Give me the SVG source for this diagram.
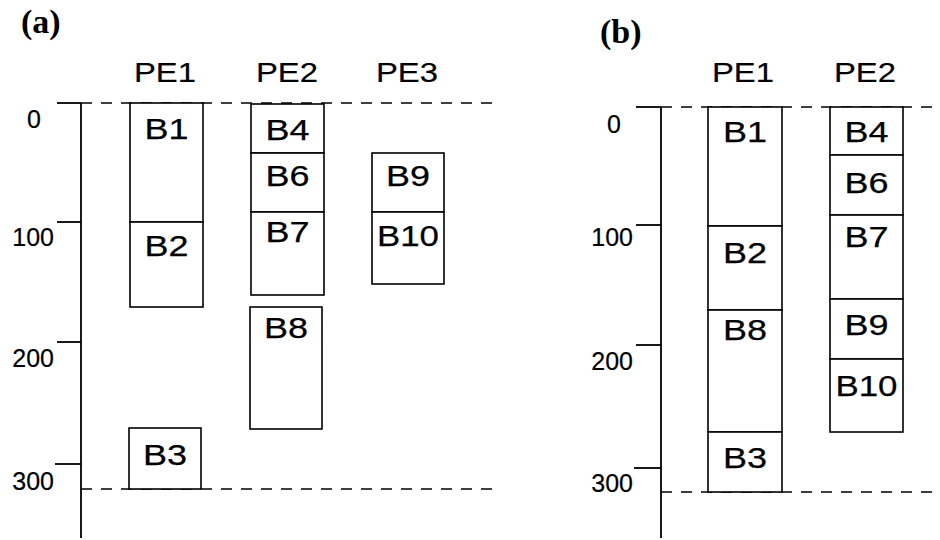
<svg xmlns="http://www.w3.org/2000/svg" width="940" height="540" viewBox="0 0 940 540">
<style>
  .box { fill: #fff; stroke: #000; stroke-width: 1.6; }
  .t { font-family: "Liberation Sans", Arial, sans-serif; font-size: 29px; fill: #000; stroke: #000; stroke-width: 0.25; text-anchor: middle; }
  .tick { font-family: "Liberation Sans", Arial, sans-serif; font-size: 25px; fill: #000; stroke: #000; stroke-width: 0.2; text-anchor: end; }
  .hdr { font-family: "Liberation Sans", Arial, sans-serif; font-size: 28px; fill: #000; stroke: #000; stroke-width: 0.2; text-anchor: middle; }
  .lab { font-family: "Liberation Serif", "Times New Roman", serif; font-size: 34px; font-weight: bold; fill: #000; }
  .ax { stroke: #000; stroke-width: 1.8; fill: none; }
  .dash { stroke: #000; stroke-width: 1.6; stroke-dasharray: 11 9; fill: none; }
</style>
<rect width="940" height="540" fill="#fff"/>

<!-- Panel labels -->
<text id="label-a" class="lab" x="21" y="33">(a)</text>
<text id="label-b" class="lab" x="600" y="43">(b)</text>

<!-- Headers -->
<text class="hdr" x="165" y="82" textLength="62" lengthAdjust="spacingAndGlyphs">PE1</text>
<text class="hdr" x="287" y="82" textLength="62" lengthAdjust="spacingAndGlyphs">PE2</text>
<text class="hdr" x="407" y="82" textLength="62" lengthAdjust="spacingAndGlyphs">PE3</text>
<text class="hdr" x="743" y="82" textLength="62" lengthAdjust="spacingAndGlyphs">PE1</text>
<text class="hdr" x="865" y="82" textLength="62" lengthAdjust="spacingAndGlyphs">PE2</text>

<!-- Axes, ticks, dashed lines -->
<g id="connectors">
  <line class="ax" x1="81" y1="103" x2="81" y2="538"/>
  <line class="ax" x1="57" y1="103" x2="81" y2="103"/>
  <line class="ax" x1="57" y1="222" x2="81" y2="222"/>
  <line class="ax" x1="57" y1="342" x2="81" y2="342"/>
  <line class="ax" x1="55" y1="464" x2="81" y2="464"/>
  <line class="dash" x1="81" y1="103" x2="495" y2="103"/>
  <line class="dash" x1="81" y1="489" x2="495" y2="489"/>

  <line class="ax" x1="661" y1="107" x2="661" y2="538"/>
  <line class="ax" x1="636" y1="107" x2="661" y2="107"/>
  <line class="ax" x1="636" y1="225" x2="661" y2="225"/>
  <line class="ax" x1="636" y1="345" x2="661" y2="345"/>
  <line class="ax" x1="634" y1="468" x2="661" y2="468"/>
  <line class="dash" x1="661" y1="107" x2="940" y2="107"/>
  <line class="dash" x1="661" y1="492" x2="940" y2="492"/>
</g>

<!-- Tick labels -->
<text class="tick" x="41" y="128">0</text>
<text class="tick" x="54" y="246">100</text>
<text class="tick" x="54" y="367">200</text>
<text class="tick" x="54" y="490">300</text>
<text class="tick" x="621" y="133">0</text>
<text class="tick" x="633" y="246">100</text>
<text class="tick" x="633" y="370">200</text>
<text class="tick" x="633" y="492">300</text>

<!-- Panel (a) -->
<g id="a-B1"><rect class="box" x="130" y="103" width="73" height="119"/><text class="t" x="166.5" y="139" textLength="44" lengthAdjust="spacingAndGlyphs">B1</text></g>
<g id="a-B2"><rect class="box" x="130" y="222" width="73" height="85"/><text class="t" x="166.5" y="256" textLength="44" lengthAdjust="spacingAndGlyphs">B2</text></g>
<g id="a-B3"><rect class="box" x="129" y="428" width="72" height="61"/><text class="t" x="165" y="465" textLength="44" lengthAdjust="spacingAndGlyphs">B3</text></g>
<g id="a-B4"><rect class="box" x="251" y="104" width="73" height="49"/><text class="t" x="287.5" y="140" textLength="44" lengthAdjust="spacingAndGlyphs">B4</text></g>
<g id="a-B6"><rect class="box" x="251" y="153" width="73" height="59"/><text class="t" x="287.5" y="186" textLength="44" lengthAdjust="spacingAndGlyphs">B6</text></g>
<g id="a-B7"><rect class="box" x="251" y="212" width="73" height="83"/><text class="t" x="287.5" y="242" textLength="44" lengthAdjust="spacingAndGlyphs">B7</text></g>
<g id="a-B8"><rect class="box" x="250" y="307" width="72" height="122"/><text class="t" x="286" y="338" textLength="44" lengthAdjust="spacingAndGlyphs">B8</text></g>
<g id="a-B9"><rect class="box" x="372" y="153" width="72" height="59"/><text class="t" x="408" y="186" textLength="44" lengthAdjust="spacingAndGlyphs">B9</text></g>
<g id="a-B10"><rect class="box" x="372" y="212" width="72" height="72"/><text class="t" x="408" y="246" textLength="62" lengthAdjust="spacingAndGlyphs">B10</text></g>

<!-- Panel (b) -->
<g id="b-B1"><rect class="box" x="708" y="107" width="74" height="119"/><text class="t" x="745" y="142" textLength="44" lengthAdjust="spacingAndGlyphs">B1</text></g>
<g id="b-B2"><rect class="box" x="708" y="226" width="74" height="84"/><text class="t" x="745" y="263" textLength="44" lengthAdjust="spacingAndGlyphs">B2</text></g>
<g id="b-B8"><rect class="box" x="708" y="310" width="74" height="122"/><text class="t" x="745" y="340" textLength="44" lengthAdjust="spacingAndGlyphs">B8</text></g>
<g id="b-B3"><rect class="box" x="708" y="432" width="74" height="60"/><text class="t" x="745" y="468" textLength="44" lengthAdjust="spacingAndGlyphs">B3</text></g>
<g id="b-B4"><rect class="box" x="830" y="107" width="73" height="48"/><text class="t" x="866.5" y="142" textLength="44" lengthAdjust="spacingAndGlyphs">B4</text></g>
<g id="b-B6"><rect class="box" x="830" y="155" width="73" height="60"/><text class="t" x="866.5" y="193" textLength="44" lengthAdjust="spacingAndGlyphs">B6</text></g>
<g id="b-B7"><rect class="box" x="830" y="215" width="73" height="84"/><text class="t" x="866.5" y="247" textLength="44" lengthAdjust="spacingAndGlyphs">B7</text></g>
<g id="b-B9"><rect class="box" x="830" y="299" width="73" height="60"/><text class="t" x="866.5" y="335" textLength="44" lengthAdjust="spacingAndGlyphs">B9</text></g>
<g id="b-B10"><rect class="box" x="830" y="359" width="73" height="73"/><text class="t" x="866.5" y="396" textLength="62" lengthAdjust="spacingAndGlyphs">B10</text></g>
</svg>
